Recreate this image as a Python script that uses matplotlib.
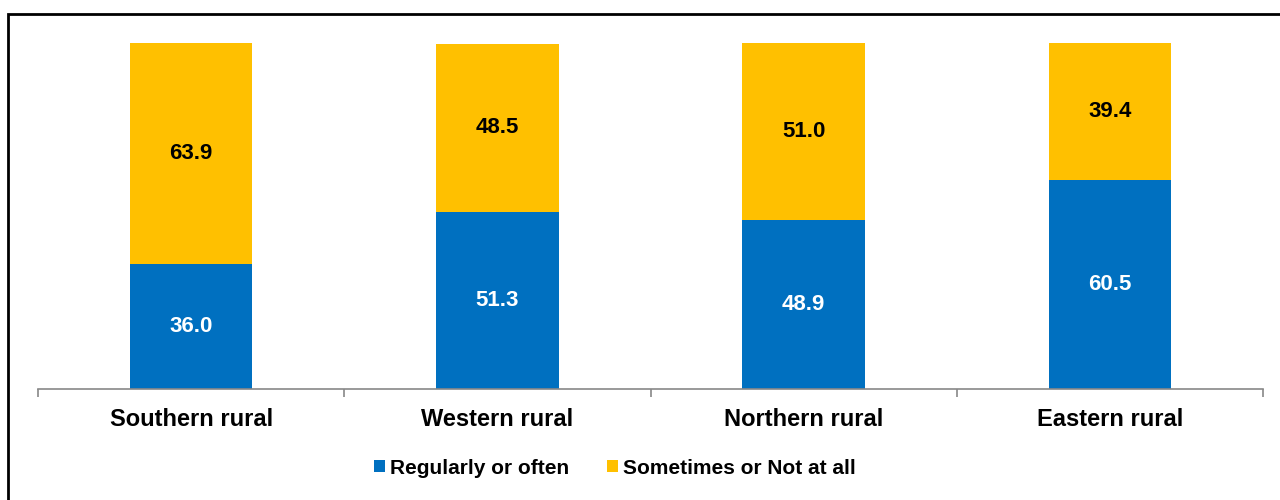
import matplotlib as mpl
mpl.use('Agg')
import numpy as np
import matplotlib.pyplot as plt
from matplotlib.patches import Rectangle

mpl.rcParams['font.family'] = ['Liberation Sans', 'DejaVu Sans']
mpl.rcParams['font.weight'] = 'bold'

regions = ['Southern rural', 'Western rural', 'Northern rural', 'Eastern rural']
regular = [36.0, 51.3, 48.9, 60.5]
sometimes = [63.9, 48.5, 51.0, 39.4]
series_names = ['Regularly or often', 'Sometimes or Not at all']

blue = '#0070C0'
yellow = '#FFC000'

fig = plt.figure(figsize=(12.8, 5), dpi=100)
ax = fig.add_axes([38/1280, 111/500, 1225/1280, 346/500])

x = np.arange(len(regions))
ax.bar(x, regular, width=0.4, color=blue, label=series_names[0])
ax.bar(x, sometimes, width=0.4, bottom=regular, color=yellow, label=series_names[1])

for xi, r, s in zip(x, regular, sometimes):
    ax.text(xi, r/2, f'{r:.1f}', ha='center', va='center', color='white',
            fontsize=16, fontweight='bold')
    ax.text(xi, r + s/2, f'{s:.1f}', ha='center', va='center', color='black',
            fontsize=16, fontweight='bold')

ax.set_xlim(-0.5, len(regions) - 0.5)
ax.set_ylim(0, 100)
ax.set_yticks([])
for side in ['top', 'right', 'left']:
    ax.spines[side].set_visible(False)
ax.spines['bottom'].set_color('#888888')
ax.spines['bottom'].set_linewidth(1.2)

ax.set_xticks(x)
ax.set_xticklabels(regions, fontsize=17, fontweight='bold')
ax.tick_params(axis='x', which='major', length=0, pad=14)
ax.set_xticks(np.arange(-0.5, len(regions), 1.0), minor=True)
ax.tick_params(axis='x', which='minor', length=6, color='#888888', width=1.2, direction='out')

ax.legend(loc='center', bbox_to_anchor=(615/1280, 1 - 468/500), bbox_transform=fig.transFigure,
          ncol=2, frameon=False, handlelength=0.53, handleheight=0.53,
          handletextpad=0.25, columnspacing=1.8, prop={'weight': 'bold', 'size': 15})

fig.add_artist(Rectangle((8/1280, -0.1), 1.2, 1 - 14/500 + 0.1, transform=fig.transFigure,
                         fill=False, edgecolor='black', linewidth=2))

fig.savefig('out.png', dpi=100)
